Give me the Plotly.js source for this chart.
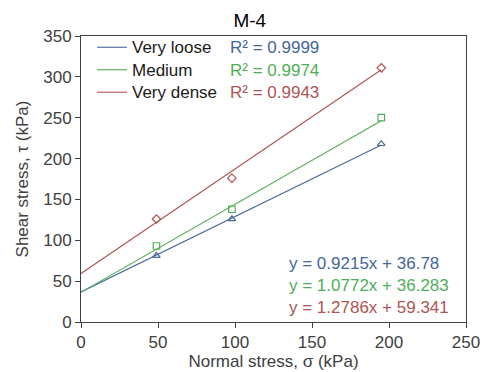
<!DOCTYPE html>
<html>
<head>
<meta charset="utf-8">
<script src="https://cdn.plot.ly/plotly-3.0.1.min.js"></script>
<style>html,body{margin:0;padding:0;background:#fff;}#chart{width:486px;height:372px;}</style>
</head>
<body>
<div id="chart"></div>
<script>
// Data
const seriesNames = ["Very loose", "Medium", "Very dense"];
const normalStress = [49, 98, 195];
const looseShear = [81, 126, 218];
const mediumShear = [93, 138, 250];
const denseShear = [126, 176, 311];
// Trendline end points (x = 0 and x = last test), as drawn in the reference
const trendX = [0, 195];
const looseTrend = [36.78, 216.5];
const mediumTrend = [36.28, 246.3];
const denseTrend = [59.34, 308.7];
const r2Labels = ["R² = 0.9999", "R² = 0.9974", "R² = 0.9943"];
const eqLabels = ["y = 0.9215x + 36.78", "y = 1.0772x + 36.283", "y = 1.2786x + 59.341"];
const xTicks = [0, 50, 100, 150, 200, 250];
const yTicks = [0, 50, 100, 150, 200, 250, 300, 350];

const colors = ["#44679B", "#4FAE55", "#AD5552"];
const symbols = ["triangle-up-open", "square-open", "diamond-open"];
const pts = [looseShear, mediumShear, denseShear];
const trends = [looseTrend, mediumTrend, denseTrend];
const FONT = "Liberation Sans, Arial, sans-serif";

const traces = [];
for (let i = 0; i < 3; i++) {
  traces.push({
    x: trendX, y: trends[i], mode: "lines",
    name: '<span style="font-size:17px">' + seriesNames[i] + '</span>',
    line: {color: colors[i], width: 1.1}, showlegend: true, hoverinfo: "skip"
  });
}
for (let i = 0; i < 3; i++) {
  traces.push({
    x: normalStress, y: pts[i], mode: "markers", name: seriesNames[i],
    marker: {symbol: symbols[i], size: 6.5, color: colors[i], line: {width: 1.2, color: colors[i]}},
    showlegend: false
  });
}

const annotations = [];
const r2Y = [0.9615, 0.881, 0.802];
const eqY = [0.206, 0.126, 0.049];
for (let i = 0; i < 3; i++) {
  annotations.push({xref: "paper", yref: "paper", x: 0.382, y: r2Y[i], xanchor: "left", yanchor: "middle",
    text: r2Labels[i], showarrow: false, font: {family: FONT, size: 17, color: colors[i]}});
  annotations.push({xref: "paper", yref: "paper", x: 0.535, y: eqY[i], xanchor: "left", yanchor: "middle",
    text: eqLabels[i], showarrow: false, font: {family: FONT, size: 17, color: colors[i]}});
}

const layout = {
  width: 486, height: 372,
  margin: {l: 81, r: 20, t: 36, b: 50, pad: 0},
  paper_bgcolor: "#fff", plot_bgcolor: "#fff",
  font: {family: FONT, size: 17, color: "#404040"},
  title: {text: "M-4", font: {family: FONT, size: 19, color: "#000"}, xref: "container", x: 0.514, xanchor: "center", yref: "container", y: 0.944, yanchor: "middle"},
  xaxis: {
    range: [0, 250], tickvals: xTicks, ticktext: xTicks.map(String),
    showline: true, linecolor: "#404040", linewidth: 1, mirror: true,
    ticks: "outside", ticklen: 5, tickcolor: "#404040", showgrid: false, zeroline: false,
    tickfont: {family: FONT, size: 17, color: "#404040"},
    title: {text: "Normal stress, σ (kPa)", font: {family: FONT, size: 17, color: "#404040"}, standoff: 2}
  },
  yaxis: {
    range: [0, 350], tickvals: yTicks, ticktext: yTicks.map(String),
    showline: true, linecolor: "#404040", linewidth: 1, mirror: true,
    ticks: "outside", ticklen: 5, tickcolor: "#404040", showgrid: false, zeroline: false,
    tickfont: {family: FONT, size: 17, color: "#404040"},
    title: {text: "Shear stress, τ (kPa)", font: {family: FONT, size: 17, color: "#404040"}, standoff: 10}
  },
  legend: {x: 0.0286, y: 1.0175, xanchor: "left", yanchor: "top", bgcolor: "rgba(0,0,0,0)", borderwidth: 0,
    font: {family: FONT, size: 15, color: "#1a1a1a"}, tracegroupgap: 0},
  annotations: annotations,
  showlegend: true
};

Plotly.newPlot("chart", traces, layout, {staticPlot: true, displayModeBar: false});
</script>
</body>
</html>
